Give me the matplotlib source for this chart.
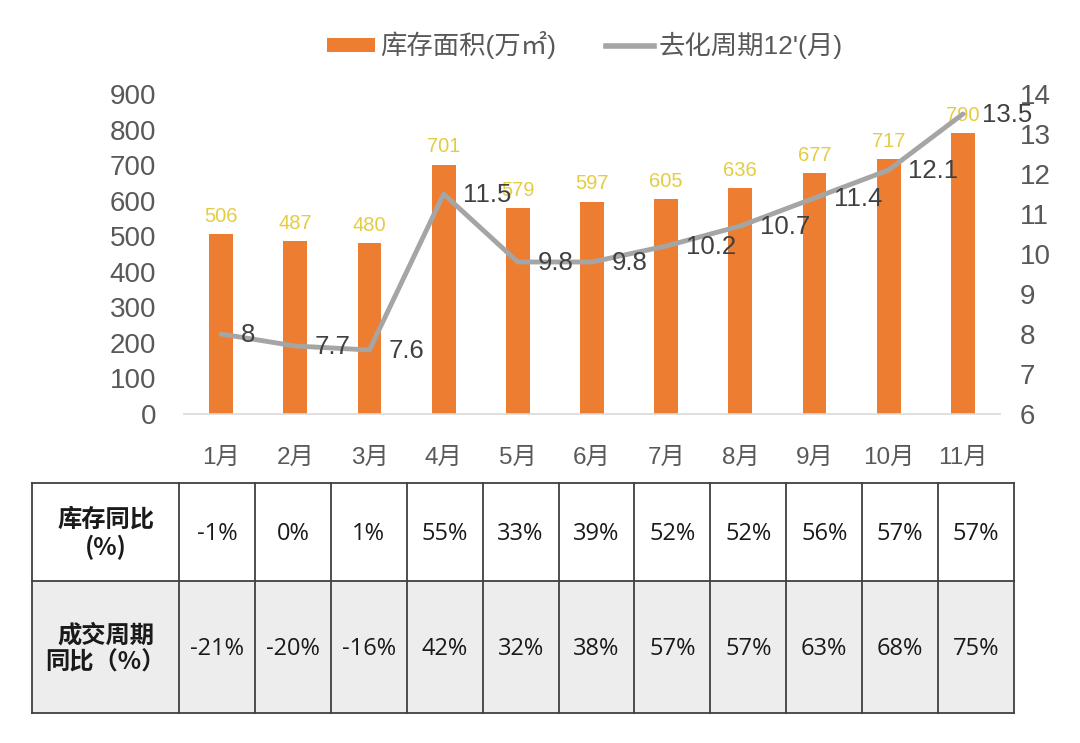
import matplotlib
matplotlib.use("Agg")
import matplotlib.pyplot as plt
from matplotlib.patches import Patch, Rectangle
from matplotlib.lines import Line2D
import numpy as np

plt.rcParams['font.family'] = ['Liberation Sans', 'Noto Sans CJK SC', 'DejaVu Sans']

months = ["1月", "2月", "3月", "4月", "5月", "6月", "7月", "8月", "9月", "10月", "11月"]
stock_area = [506, 487, 480, 701, 579, 597, 605, 636, 677, 717, 790]
cycle = [8, 7.7, 7.6, 11.5, 9.8, 9.8, 10.2, 10.7, 11.4, 12.1, 13.5]
stock_yoy = ["-1%", "0%", "1%", "55%", "33%", "39%", "52%", "52%", "56%", "57%", "57%"]
deal_yoy = ["-21%", "-20%", "-16%", "42%", "32%", "38%", "57%", "57%", "63%", "68%", "75%"]
row_names = ["库存同比\n(%)", "成交周期\n同比（%）"]

bar_color = "#ED7D31"
line_color = "#A5A5A5"
label_yellow = "#E4CC42"
tick_color = "#595959"

W, H = 1080, 743
fig = plt.figure(figsize=(W / 100, H / 100), dpi=100)

# main chart
ax = fig.add_axes([184 / W, (H - 414) / H, (1000 - 184) / W, 320 / H])
x = np.arange(len(months))
bars = ax.bar(x, stock_area, width=0.32, color=bar_color, zorder=2)
ax.set_xlim(-0.5, len(months) - 0.5)
ax.set_ylim(0, 900)
ax.set_yticks(range(0, 901, 100))
ax.set_xticks(x)
ax.set_xticklabels(months)
for s in ["top", "left", "right"]:
    ax.spines[s].set_visible(False)
ax.spines["bottom"].set_color("#D9D9D9")
ax.spines["bottom"].set_linewidth(1.2)
ax.tick_params(axis="y", length=0, labelsize=20, labelcolor=tick_color, pad=20)
ax.tick_params(axis="x", length=0, labelsize=17.5, labelcolor=tick_color, pad=24)

for xi, v in zip(x, stock_area):
    ax.annotate(str(v), (xi, v), xytext=(0, 6), textcoords="offset points",
                ha="center", va="bottom", fontsize=14.5, color=label_yellow, zorder=5)

ax2 = ax.twinx()
ax2.plot(x, cycle, color=line_color, linewidth=3.5, solid_capstyle="round", zorder=3)
ax2.set_ylim(6, 14)
ax2.set_yticks(range(6, 15))
for s in ["top", "left", "right", "bottom"]:
    ax2.spines[s].set_visible(False)
ax2.tick_params(axis="y", length=0, labelsize=20, labelcolor=tick_color, pad=14)
for xi, v in zip(x, cycle):
    ax2.annotate(f"{v:g}", (xi, v), xytext=(14, -1), textcoords="offset points",
                 ha="left", va="center", fontsize=18.5, color="#404040", zorder=5)

handles = [Patch(facecolor=bar_color, edgecolor="none"),
           Line2D([], [], color=line_color, linewidth=4)]
fig.legend(handles, ["库存面积(万㎡)", "去化周期12'(月)"], loc="center",
           bbox_to_anchor=(585 / W, 1 - 45 / H), ncol=2, frameon=False,
           fontsize=19, handlelength=1.8, handleheight=0.45, handletextpad=0.2,
           columnspacing=1.9, labelcolor=tick_color)

# table below the chart
tab = fig.add_axes([0, 0, 1, 1])
tab.set_xlim(0, W)
tab.set_ylim(H, 0)
tab.axis("off")
left, right = 32, 1014
first_w = 147
col_w = (right - left - first_w) / len(months)
row_edges = [483, 581, 713]
row_fill = ["white", "#EDEDED"]
edges = [left, left + first_w] + [left + first_w + col_w * (i + 1) for i in range(len(months))]

for r, (vals, name) in enumerate(zip([stock_yoy, deal_yoy], row_names)):
    y0, y1 = row_edges[r], row_edges[r + 1]
    yc = (y0 + y1) / 2 + 2
    tab.add_patch(Rectangle((left, y0), right - left, y1 - y0, facecolor=row_fill[r],
                            edgecolor="none"))
    tab.text((edges[0] + edges[1]) / 2, yc, name, ha="center", va="center",
             multialignment="center", fontsize=17.5, fontweight="bold", color="#1a1a1a",
             family=["Noto Sans CJK SC"], linespacing=1.15)
    for c, v in enumerate(vals):
        tab.text((edges[c + 1] + edges[c + 2]) / 2, yc, v, ha="center",
                 va="center", fontsize=17, color="#1a1a1a", family=["Open Sans"])

for yy in row_edges:
    tab.plot([left, right], [yy, yy], color="#404040", linewidth=1.3)
for xx in edges:
    tab.plot([xx, xx], [row_edges[0], row_edges[-1]], color="#404040", linewidth=1.3)

fig.savefig("out.png", dpi=100)
